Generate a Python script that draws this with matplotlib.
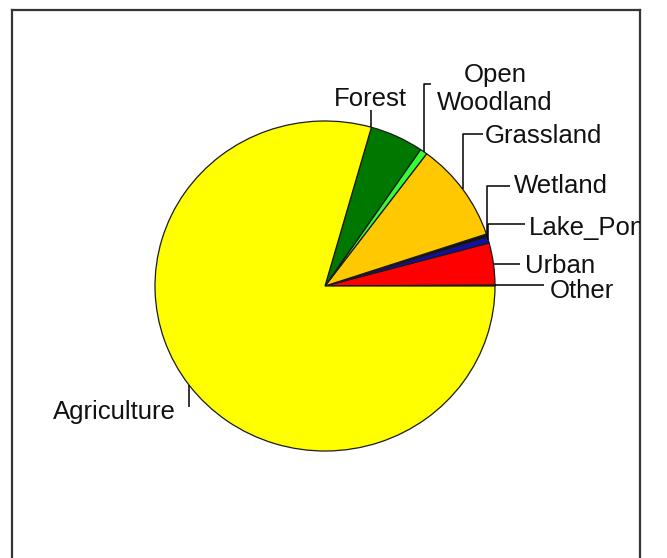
"""Land use pie chart with elbow leader labels."""
import matplotlib

matplotlib.use("Agg")
import matplotlib.pyplot as plt
import numpy as np

# slices, counter-clockwise from 3 o'clock (percent of area)
labels = ["Other", "Urban", "Lake_Pond", "Wetland", "Grassland",
          "Open\nWoodland", "Forest", "Agriculture"]
shares = [0.1, 4.1, 0.6, 0.3, 9.7, 0.7, 5.1, 79.4]
colors = ["#c0c0c0", "#ff0000", "#1010a8", "#101010", "#ffc800",
          "#33ff33", "#007800", "#ffff00"]

# label layout, in picture pixels (x right, y down)
# frac: where on the slice the leader starts (0 = start, 1 = end)
# elbow_y: y of the horizontal run (None = stay at anchor), end_x: end of run
LAYOUT = {
    "Other":          dict(frac=0.5, elbow_y=None, end_x=544, tx=550, ty=298, ha="left"),
    "Urban":          dict(frac=0.5, elbow_y=None, end_x=520, tx=525, ty=273, ha="left"),
    "Lake_Pond":      dict(frac=0.5, elbow_y=224, end_x=525, tx=529, ty=235, ha="left"),
    "Wetland":        dict(frac=0.5, elbow_y=186, end_x=510, tx=514, ty=193, ha="left"),
    "Grassland":      dict(frac=0.5, elbow_y=134, end_x=483, tx=485, ty=143, ha="left"),
    "Open\nWoodland": dict(frac=0.5, elbow_y=84, end_x=431, tx=495, ty=110, ha="center"),
    "Forest":         dict(frac=1.0, elbow_y=110, end_x=None, tx=370, ty=106, ha="center"),
    "Agriculture":    dict(frac=0.5, elbow_y=407, end_x=None, tx=176, ty=419, ha="right"),
}

W, H = 667, 558
CX, CY = 325, 286      # pie centre, px
RX, RY = 170, 165      # px per unit (pie is a touch squashed)
AX_L, AX_R, AX_T = 12, 640, 10


def to_data(x, y):
    return (x - CX) / RX, (CY - y) / RY


plt.rcParams["font.family"] = ["Liberation Sans", "DejaVu Sans"]

fig = plt.figure(figsize=(W / 100, H / 100), dpi=100)
ax = fig.add_axes([AX_L / W, 0, (AX_R - AX_L) / W, (H - AX_T) / H])

ax.pie(shares, colors=colors, startangle=0, counterclock=True, radius=1,
       frame=True, wedgeprops=dict(edgecolor="#1a1a1a", linewidth=0.9))

ax.set_aspect("auto")
x0, _ = to_data(AX_L, 0)
x1, _ = to_data(AX_R, 0)
_, y0 = to_data(0, H)
_, y1 = to_data(0, AX_T)
ax.set_xlim(x0, x1)
ax.set_ylim(y0, y1)
ax.set_xticks([])
ax.set_yticks([])
for side in ("left", "right", "top"):
    ax.spines[side].set_color("#353535")
    ax.spines[side].set_linewidth(1.6)
ax.spines["bottom"].set_visible(False)

# leaders + labels
cum = np.concatenate([[0], np.cumsum(shares)]) / np.sum(shares) * 360.0
for i, lab in enumerate(labels):
    lay = LAYOUT[lab]
    ang = np.deg2rad(cum[i] + lay["frac"] * (cum[i + 1] - cum[i]))
    axx, axy = np.cos(ang), np.sin(ang)
    ey = axy if lay["elbow_y"] is None else to_data(0, lay["elbow_y"])[1]
    ex = axx if lay["end_x"] is None else to_data(lay["end_x"], 0)[0]
    ax.plot([axx, axx, ex], [axy, ey, ey], color="black", lw=1.1,
            solid_capstyle="butt", zorder=3)
    tx, ty = to_data(lay["tx"], lay["ty"])
    ax.text(tx, ty, lab, ha=lay["ha"], va="baseline", fontsize=18.5,
            multialignment="center", linespacing=1.22, color="#111111",
            clip_on=True)

fig.savefig("out.png", dpi=100)
